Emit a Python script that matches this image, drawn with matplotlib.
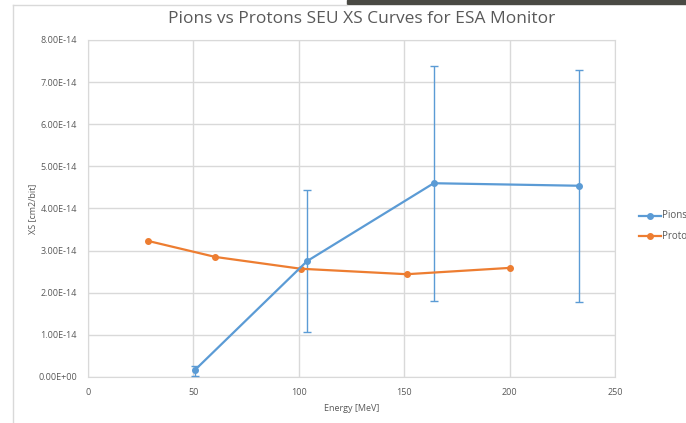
import numpy as np
import matplotlib.pyplot as plt
from matplotlib.lines import Line2D
from matplotlib.patches import Rectangle

# Values
pion_energy = [50.8, 103.9, 164.0, 232.9]
pion_xs = [0.17e-14, 2.75e-14, 4.60e-14, 4.54e-14]
pion_err_low = [0.14e-14, 1.69e-14, 2.80e-14, 2.76e-14]
pion_err_high = [0.10e-14, 1.68e-14, 2.79e-14, 2.74e-14]

proton_energy = [28.5, 60.4, 100.9, 151.2, 200.0]
proton_xs = [3.23e-14, 2.85e-14, 2.57e-14, 2.44e-14, 2.59e-14]

y_ticks = np.arange(0, 9) * 1e-14
y_labels = ["0.00E+00"] + ["%d.00E-14" % i for i in range(1, 9)]

blue = "#5B9BD5"
orange = "#ED7D31"
grey = "#595959"

plt.rcParams['font.family'] = ['Open Sans', 'DejaVu Sans']

fig = plt.figure(figsize=(6.86, 4.23), dpi=100)
W, H = 686, 423
ax = fig.add_axes([88 / W, 1 - 377 / H, (615 - 88) / W, (377 - 40) / H])

# screenshot frame bits
fig.add_artist(Rectangle((347 / W, 1 - 4 / H), 1, 4 / H, transform=fig.transFigure,
                         color="#4a4a44", zorder=0))
fig.add_artist(Line2D([13 / W, 13 / W], [0, 1 - 5 / H], transform=fig.transFigure,
                      color="#d9d9d9", lw=1))
fig.add_artist(Line2D([13 / W, 347 / W], [1 - 5 / H, 1 - 5 / H], transform=fig.transFigure,
                      color="#d9d9d9", lw=1))

ax.errorbar(pion_energy, pion_xs, yerr=[pion_err_low, pion_err_high], color=blue,
            lw=1.6, marker="o", ms=4, capsize=3, elinewidth=1.0, capthick=1.0,
            label="Pions", zorder=3)
ax.plot(proton_energy, proton_xs, color=orange, lw=1.6, marker="o", ms=4,
        label="Protons", zorder=3)

ax.set_xlim(0, 250)
ax.set_ylim(0, 8e-14)
ax.set_xticks(np.arange(0, 251, 50))
ax.set_yticks(y_ticks)
ax.set_yticklabels(y_labels)
ax.grid(True, color="#d9d9d9", lw=1)
ax.set_axisbelow(True)
for s in ax.spines.values():
    s.set_color("#d9d9d9")
ax.tick_params(length=0, labelsize=6.5, colors=grey, pad=8)

ax.set_xlabel("Energy [MeV]", fontsize=6.5, color=grey, labelpad=5)
ax.set_ylabel("XS [cm2/bit]", fontsize=6.5, color=grey, labelpad=1)
fig.text(362 / W, 1 - 19 / H, "Pions vs Protons SEU XS Curves for ESA Monitor",
         ha="center", va="center", fontsize=12.5, color=grey)

# legend on the right, runs off the canvas edge as in the reference
for i, (lab, col) in enumerate([("Pions", blue), ("Protons", orange)]):
    yy = 1 - (216 + 20 * i) / H
    fig.add_artist(Line2D([639 / W, 661 / W], [yy, yy], transform=fig.transFigure,
                          color=col, lw=1.6))
    fig.add_artist(Line2D([650 / W], [yy], transform=fig.transFigure,
                          color=col, marker="o", ms=4))
    fig.text(662 / W, yy, lab, fontsize=7, color=grey, va="center", ha="left")

fig.savefig("out.png", dpi=100)
